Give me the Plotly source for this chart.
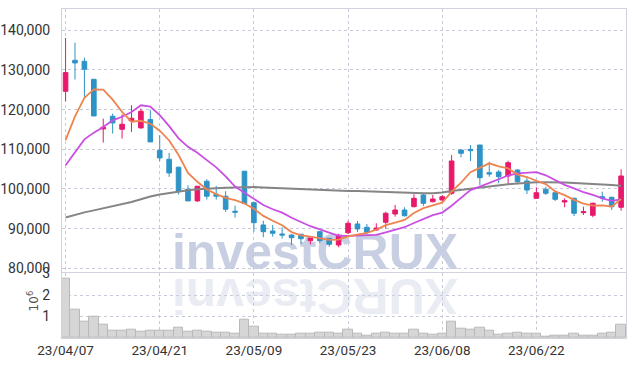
import plotly.graph_objects as go

# ---------------- data ----------------
dates = ["23/04/07", "23/04/10", "23/04/11", "23/04/12", "23/04/13", "23/04/14", "23/04/17", "23/04/18", "23/04/19", "23/04/20",
         "23/04/21", "23/04/24", "23/04/25", "23/04/26", "23/04/27", "23/04/28", "23/05/02", "23/05/03", "23/05/04", "23/05/08",
         "23/05/09", "23/05/10", "23/05/11", "23/05/12", "23/05/15", "23/05/16", "23/05/17", "23/05/18", "23/05/19", "23/05/22",
         "23/05/23", "23/05/24", "23/05/25", "23/05/26", "23/05/30", "23/05/31", "23/06/01", "23/06/02", "23/06/05", "23/06/07",
         "23/06/08", "23/06/09", "23/06/12", "23/06/13", "23/06/14", "23/06/15", "23/06/16", "23/06/19", "23/06/20", "23/06/21",
         "23/06/22", "23/06/23", "23/06/26", "23/06/27", "23/06/28", "23/06/29", "23/06/30", "23/07/03", "23/07/04", "23/07/05"]

opens = [124630, 132440, 132190, 127650, 115140, 118330, 115050, 117150, 115390, 117490,
         109760, 107490, 105480, 99930, 96990, 101950, 98670, 98170, 94390, 104470,
         96540, 90920, 89400, 88650, 88390, 88570, 86960, 89230, 87560, 85870,
         88970, 91170, 90340, 89660, 91600, 93690, 94700, 95530, 98480, 96790,
         97220, 98910, 109820, 110000, 111080, 104100, 104280, 103270, 104780, 102010,
         97650, 99920, 99060, 96710, 97650, 94020, 93360, 98050, 97900, 95380]
highs = [138070, 136890, 133110, 127700, 117740, 119000, 118830, 121100, 120260, 120010,
         113540, 109090, 105600, 100940, 100690, 102450, 100770, 99430, 95820, 104500,
         96700, 92000, 90920, 90340, 88600, 88700, 87640, 89300, 87600, 88650,
         92000, 91920, 91170, 91340, 94270, 95960, 95380, 98660, 98910, 98480,
         98480, 108560, 110000, 111080, 111100, 106880, 104780, 107130, 104960, 103090,
         100420, 100570, 99560, 97650, 97810, 95530, 96540, 99310, 98050, 104960]
lows = [122110, 127600, 123200, 118400, 111690, 113960, 112700, 114380, 115220, 111860,
        106990, 103040, 98590, 96990, 96740, 97330, 97330, 94220, 92790, 96320,
        89230, 87820, 87970, 87460, 85870, 86130, 86050, 86300, 85450, 85290,
        88650, 89150, 88650, 89400, 89980, 93010, 93010, 95380, 95700, 96640,
        96790, 98480, 107980, 107050, 101000, 103090, 101430, 101250, 101180, 98730,
        97650, 98480, 96970, 95380, 93180, 93440, 92860, 96790, 94700, 94520]
closes = [129330, 131770, 130170, 118410, 115560, 116650, 116310, 117820, 119590, 111860,
          107830, 104050, 99430, 96990, 100690, 98170, 98170, 94890, 94140, 96320,
          91500, 89230, 88820, 88390, 87710, 87460, 87640, 86960, 86050, 88140,
          91340, 89910, 89080, 90160, 93870, 94700, 93260, 97650, 96390, 97470,
          98050, 107050, 108990, 109650, 102840, 103770, 103090, 106620, 101830, 99740,
          99060, 98910, 97390, 97040, 93870, 94270, 96390, 97720, 95530, 103270]

ma5 = [112300, 118300, 123000, 125100, 125050, 122510, 119420, 116950, 117190, 116450,
       114680, 112230, 108550, 104030, 101800, 99870, 98690, 97780, 97210, 96340,
       95000, 93220, 92000, 90850, 89130, 88320, 88000, 87630, 87160, 87250,
       88030, 88480, 88900, 89730, 90870, 91540, 92210, 93930, 95170, 95890,
       96560, 99320, 101590, 104240, 105320, 106460, 105670, 105190, 103630, 103010,
       102070, 101230, 99390, 98430, 97250, 96300, 95790, 95860, 95560, 97440]
ma10 = [106000, 109300, 112500, 114200, 115600, 117300, 118200, 119400, 121100, 120750,
        118600, 115830, 112750, 110610, 109120, 107270, 105460, 103170, 100620, 99070,
        97440, 95950, 94890, 94030, 92730, 91660, 90610, 89820, 89010, 88190,
        88170, 88240, 88270, 88450, 89060, 89790, 90350, 91420, 92450, 93380,
        94050, 95770, 97760, 99710, 100610, 101510, 102500, 103390, 103940, 104160,
        104260, 103450, 102290, 101030, 100130, 99180, 98510, 97620, 96990, 97350]
ma60 = [92800, 93500, 94100, 94600, 95100, 95600, 96100, 96700, 97400, 98100,
        98600, 99000, 99400, 99700, 99900, 100100, 100200, 100300, 100400, 100500,
        100500, 100400, 100300, 100200, 100100, 100000, 99900, 99700, 99600, 99500,
        99500, 99500, 99400, 99300, 99200, 99100, 99000, 98950, 98900, 98950,
        99100, 99500, 99800, 100100, 100400, 100700, 101000, 101200, 101400, 101600,
        101700, 101700, 101700, 101600, 101500, 101400, 101300, 101150, 101000, 100800]

volume = [2.78e6, 1.33e6, 0.78e6, 1.00e6, 0.64e6, 0.36e6, 0.36e6, 0.40e6, 0.28e6, 0.36e6,
          0.36e6, 0.33e6, 0.50e6, 0.28e6, 0.33e6, 0.29e6, 0.26e6, 0.26e6, 0.19e6, 0.87e6,
          0.53e6, 0.22e6, 0.19e6, 0.14e6, 0.14e6, 0.22e6, 0.19e6, 0.25e6, 0.26e6, 0.19e6,
          0.37e6, 0.19e6, 0.11e6, 0.19e6, 0.26e6, 0.22e6, 0.19e6, 0.37e6, 0.22e6, 0.14e6,
          0.19e6, 0.78e6, 0.45e6, 0.37e6, 0.50e6, 0.33e6, 0.14e6, 0.19e6, 0.23e6, 0.20e6,
          0.19e6, 0.08e6, 0.11e6, 0.12e6, 0.19e6, 0.12e6, 0.12e6, 0.19e6, 0.25e6, 0.60e6]

tick_dates = ["23/04/07", "23/04/21", "23/05/09", "23/05/23", "23/06/08", "23/06/22"]
vol_tickvals = [1e6, 2e6, 3e6]
vol_ticktext = ["1", "2", "3"]
watermark = "investCRUX"
watermark_reflection = "XURCtsevni"   # rotated 180 deg -> reads left-to-right, upside down

# ---------------- styles ----------------
RED = "#e8196b"
BLUE = "#2e93c6"
GRID = "#c7cad8"
AXLINE = "#d2d3dc"
YFONT = dict(family="Roboto, sans-serif", size=14, color="#333333")
XFONT = dict(family="Roboto, sans-serif", size=13.5, color="#333333")

fig = go.Figure()

# watermark in a hidden background subplot (drawn beneath everything)
fig.add_trace(go.Scatter(
    x=[0.4486], y=[0.249], mode="text", text=[watermark],
    textfont=dict(family="Liberation Sans", size=50, color="rgb(200,207,227)", weight="bold"),
    xaxis="x", yaxis="y", cliponaxis=False, showlegend=False, hoverinfo="skip"))

fig.add_trace(go.Candlestick(
    x=dates, open=opens, high=highs, low=lows, close=closes,
    xaxis="x2", yaxis="y2",
    increasing=dict(line=dict(color=RED, width=1), fillcolor=RED),
    decreasing=dict(line=dict(color=BLUE, width=1), fillcolor=BLUE),
    showlegend=False, hoverinfo="skip"))

fig.add_trace(go.Scatter(x=dates, y=ma60, mode="lines", line=dict(color="#858585", width=2),
                         xaxis="x2", yaxis="y2", showlegend=False, hoverinfo="skip"))
fig.add_trace(go.Scatter(x=dates, y=ma10, mode="lines", line=dict(color="#c94fe3", width=1.8),
                         xaxis="x2", yaxis="y2", showlegend=False, hoverinfo="skip"))
fig.add_trace(go.Scatter(x=dates, y=ma5, mode="lines", line=dict(color="#ef8450", width=1.8),
                         xaxis="x2", yaxis="y2", showlegend=False, hoverinfo="skip"))

fig.add_trace(go.Bar(x=dates, y=volume, xaxis="x3", yaxis="y3",
                     marker=dict(color="#d6d6d6", line=dict(color="#b9b9b9", width=1)),
                     showlegend=False, hoverinfo="skip"))

fig.update_layout(
    width=634, height=366,
    margin=dict(l=62, r=8, t=9, b=28),
    paper_bgcolor="white", plot_bgcolor="rgba(0,0,0,0)",
    bargap=0,
    xaxis=dict(domain=[0, 1], range=[0, 1], visible=False, anchor="y", fixedrange=True, automargin=False),
    yaxis=dict(domain=[0, 1], range=[0, 1], visible=False, anchor="x", fixedrange=True, automargin=False),
    xaxis2=dict(type="category", domain=[0, 1], anchor="y2", matches="x3",
                range=[-0.38, 59.52], tickvals=tick_dates, showticklabels=False,
                showgrid=True, gridcolor=GRID, griddash="dot", gridwidth=1,
                showline=True, mirror=True, linecolor=AXLINE, linewidth=1,
                rangeslider=dict(visible=False), zeroline=False, automargin=False),
    yaxis2=dict(domain=[0.2015, 1], anchor="x2", range=[79140, 145370],
                tick0=0, dtick=10000, tickformat=",d",
                showgrid=True, gridcolor=GRID, griddash="dot", gridwidth=1,
                showline=True, mirror=True, linecolor=AXLINE, linewidth=1,
                zeroline=False, tickfont=YFONT, ticklabelstandoff=8, automargin=False),
    xaxis3=dict(type="category", domain=[0, 1], anchor="y3",
                range=[-0.38, 59.52], tickvals=tick_dates, ticktext=tick_dates,
                showgrid=True, gridcolor=GRID, griddash="dot", gridwidth=1,
                showline=True, mirror=False, linecolor=AXLINE, linewidth=1,
                zeroline=False, tickfont=XFONT, tickangle=0, automargin=False),
    yaxis3=dict(domain=[0, 0.1985], anchor="x3", range=[0, 3.04e6],
                tickvals=vol_tickvals, ticktext=vol_ticktext,
                showgrid=True, gridcolor=GRID, griddash="dot", gridwidth=1,
                showline=True, mirror=True, linecolor=AXLINE, linewidth=1,
                zeroline=False, tickfont=YFONT, ticklabelstandoff=8, automargin=False),
    annotations=[
        dict(text=watermark_reflection, xref="paper", yref="paper", x=0.4486, y=0.128,
             xanchor="center", yanchor="middle",
             textangle=180, showarrow=False,
             font=dict(family="Liberation Sans", size=50, color="rgba(205,209,226,0.42)", weight="bold")),
        dict(text="10<sup>6</sup>", xref="paper", yref="paper", x=-0.051, y=0.112,
             xanchor="center", yanchor="middle",
             textangle=-90, showarrow=False,
             font=dict(family="DejaVu Sans", size=12, color="#555555")),
    ],
)

fig.write_html("out.html", config={"displayModeBar": False},
               post_script=["document.body.style.margin='0px';document.body.style.padding='0px';"])
